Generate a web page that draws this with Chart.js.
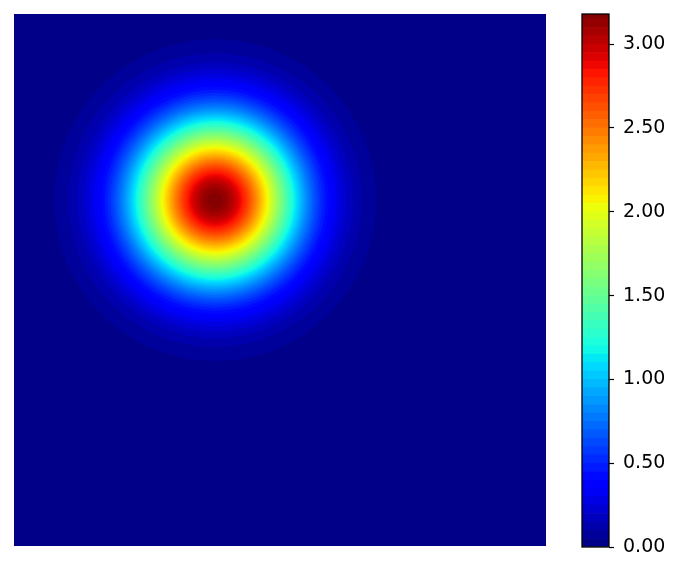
<!DOCTYPE html>
<html>
<head>
<meta charset="utf-8">
<script src="https://cdn.jsdelivr.net/npm/chart.js@4/dist/chart.umd.min.js"></script>
<style>
  body { margin: 0; background: #fff; width: 681px; height: 572px; overflow: hidden; }
  #map { position: absolute; left: 0; top: 0; }
  #cbar { position: absolute; left: 570px; top: 0; }
</style>
</head>
<body>
<canvas id="map" width="560" height="560"></canvas>
<canvas id="cbar" width="111" height="572"></canvas>
<script>
// peak of the bump (data units, axes run 0..100) and its top value
const peakCenter = [37.8, 65.0];
const peakValue = 3.18;

// contour levels and the radius (data units) where the field crosses each one
const levels = [0.05, 0.10, 0.15, 0.20, 0.25, 0.30, 0.35, 0.40, 0.45, 0.50,
  0.55, 0.60, 0.65, 0.70, 0.75, 0.80, 0.85, 0.90, 0.95, 1.00,
  1.05, 1.10, 1.15, 1.20, 1.25, 1.30, 1.35, 1.40, 1.45, 1.50,
  1.55, 1.60, 1.65, 1.70, 1.75, 1.80, 1.85, 1.90, 1.95, 2.00,
  2.05, 2.10, 2.15, 2.20, 2.25, 2.30, 2.35, 2.40, 2.45, 2.50,
  2.55, 2.60, 2.65, 2.70, 2.75, 2.80, 2.85, 2.90, 2.95, 3.00,
  3.05, 3.10, 3.15];
const ringRadii = [30.26, 27.62, 25.95, 24.70, 23.68, 22.82, 22.06, 21.38, 20.76, 20.20,
  19.67, 19.18, 18.71, 18.27, 17.85, 17.44, 17.06, 16.68, 16.32, 15.97,
  15.63, 15.30, 14.98, 14.66, 14.35, 14.04, 13.74, 13.45, 13.16, 12.87,
  12.59, 12.31, 12.03, 11.75, 11.48, 11.20, 10.93, 10.66, 10.38, 10.11,
  9.84, 9.57, 9.29, 9.01, 8.73, 8.45, 8.17, 7.88, 7.58, 7.28,
  6.98, 6.66, 6.34, 6.01, 5.66, 5.30, 4.92, 4.51, 4.07, 3.58,
  3.03, 2.37, 1.45];

// colorbar tick labels
const cbarTicks = [0, 0.5, 1.0, 1.5, 2.0, 2.5, 3.0];

// matplotlib jet
function jet(t) {
  t = Math.max(0, Math.min(1, t));
  const lerp = (pts) => {
    for (let i = 1; i < pts.length; i++) {
      if (t <= pts[i][0]) {
        const [x0, y0] = pts[i - 1], [x1, y1] = pts[i];
        return y0 + (y1 - y0) * (t - x0) / (x1 - x0);
      }
    }
    return pts[pts.length - 1][1];
  };
  const r = lerp([[0, 0], [0.35, 0], [0.66, 1], [0.89, 1], [1, 0.5]]);
  const g = lerp([[0, 0], [0.125, 0], [0.375, 1], [0.64, 1], [0.91, 0], [1, 0]]);
  const b = lerp([[0, 0.5], [0.11, 1], [0.34, 1], [0.65, 0], [1, 0]]);
  return 'rgb(' + Math.round(r * 255) + ',' + Math.round(g * 255) + ',' + Math.round(b * 255) + ')';
}

// band bounds: [0, l1], [l1, l2], ... [lN, peak]
const bounds = [0].concat(levels, [peakValue]);
const bandColor = (i) => jet((bounds[i] + bounds[i + 1]) / 2 / peakValue);

// ---- main contour map ----
const ringPoints = levels.map((lv, i) => ({ x: peakCenter[0], y: peakCenter[1], r: ringRadii[i] }));

const bgPlugin = {
  id: 'bg',
  beforeDatasetsDraw(chart) {
    const a = chart.chartArea, c = chart.ctx;
    c.save();
    c.fillStyle = bandColor(0);
    c.fillRect(a.left, a.top, a.right - a.left, a.bottom - a.top);
    c.restore();
  }
};

new Chart(document.getElementById('map').getContext('2d'), {
  type: 'scatter',
  data: {
    datasets: [{
      data: ringPoints,
      pointRadius: (ctx) => {
        const sx = ctx.chart.scales.x;
        const p = ctx.raw;
        if (!sx || !p) return 0;
        return Math.abs(sx.getPixelForValue(p.x + p.r) - sx.getPixelForValue(p.x));
      },
      pointBackgroundColor: (ctx) => bandColor(ctx.dataIndex + 1),
      pointBorderWidth: 0,
      pointHoverRadius: 0
    }]
  },
  options: {
    responsive: false,
    animation: false,
    events: [],
    layout: { padding: { left: 14, top: 14, right: 14, bottom: 14 } },
    plugins: { legend: { display: false }, tooltip: { enabled: false } },
    scales: {
      x: { display: false, min: 0, max: 100 },
      y: { display: false, min: 0, max: 100 }
    }
  },
  plugins: [bgPlugin]
});

// ---- colorbar ----
const cbarSets = bounds.slice(0, -1).map((lo, i) => ({
  data: [[lo, bounds[i + 1]]],
  backgroundColor: bandColor(i),
  borderWidth: 0,
  barPercentage: 1,
  categoryPercentage: 1,
  grouped: false
}));

const framePlugin = {
  id: 'frame',
  afterDatasetsDraw(chart) {
    const a = chart.chartArea, c = chart.ctx;
    c.save();
    c.strokeStyle = '#000';
    c.lineWidth = 1.3;
    c.strokeRect(a.left, a.top, a.right - a.left, a.bottom - a.top);
    c.restore();
  }
};

new Chart(document.getElementById('cbar').getContext('2d'), {
  type: 'bar',
  data: { labels: [''], datasets: cbarSets },
  options: {
    responsive: false,
    animation: false,
    events: [],
    layout: { padding: { left: 12, top: 14, right: 0, bottom: 25 } },
    plugins: { legend: { display: false }, tooltip: { enabled: false } },
    scales: {
      x: { display: false },
      y: {
        position: 'right',
        min: 0,
        max: peakValue,
        afterFit: (s) => { s.width = 72; s.paddingTop = 0; s.paddingBottom = 0; },
        afterBuildTicks: (s) => { s.ticks = cbarTicks.map(v => ({ value: v })); },
        border: { display: false },
        grid: { drawOnChartArea: false, drawTicks: true, tickLength: 5, tickColor: '#000', tickWidth: 1.2 },
        ticks: {
          color: '#000',
          padding: 9,
          font: { family: 'DejaVu Sans', size: 19 },
          callback: (v) => Number(v).toFixed(2)
        }
      }
    }
  },
  plugins: [framePlugin]
});
</script>
</body>
</html>
